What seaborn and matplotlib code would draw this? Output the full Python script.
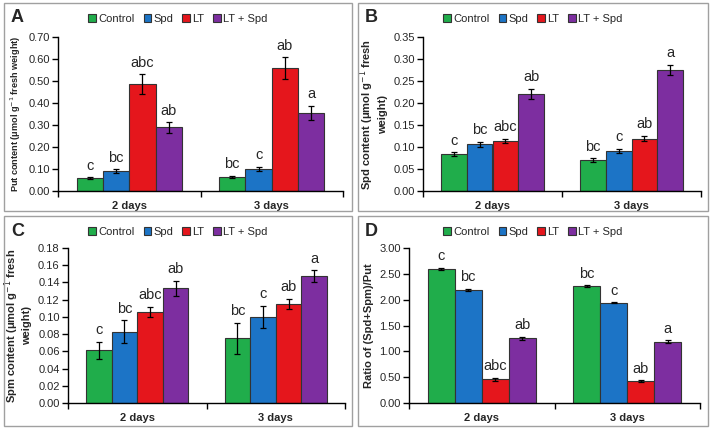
import pandas as pd
import seaborn as sns
import matplotlib.pyplot as plt
from matplotlib.patches import Rectangle

# Data
days = ['2 days', '3 days']
treatments = ['Control', 'Spd', 'LT', 'LT + Spd']
colors = ['#20ad4b', '#1c74c6', '#e5161c', '#7d2ea0']

put_mean = [[0.058, 0.090, 0.486, 0.289], [0.065, 0.100, 0.557, 0.355]]
put_err = [[0.005, 0.008, 0.045, 0.024], [0.004, 0.011, 0.050, 0.032]]
spd_mean = [[0.084, 0.106, 0.114, 0.221], [0.070, 0.091, 0.119, 0.275]]
spd_err = [[0.004, 0.006, 0.005, 0.011], [0.004, 0.005, 0.006, 0.012]]
spm_mean = [[0.061, 0.083, 0.106, 0.133], [0.075, 0.100, 0.115, 0.147]]
spm_err = [[0.010, 0.013, 0.006, 0.009], [0.018, 0.013, 0.006, 0.007]]
ratio_mean = [[2.59, 2.19, 0.46, 1.25], [2.26, 1.94, 0.42, 1.19]]
ratio_err = [[0.02, 0.02, 0.03, 0.03], [0.02, 0.01, 0.02, 0.02]]

letters = [['c', 'bc', 'abc', 'ab'], ['bc', 'c', 'ab', 'a']]

# letter, means, errors, y label, label size, y max, tick step
panels = [
    ('A', put_mean, put_err, 'Put content (μmol g$^{-1}$ fresh weight)', 6.6, 0.70, 0.10),
    ('B', spd_mean, spd_err, 'Spd content (μmol g$^{-1}$ fresh\nweight)', 8, 0.35, 0.05),
    ('C', spm_mean, spm_err, 'Spm content (μmol g$^{-1}$ fresh\nweight)', 8, 0.18, 0.02),
    ('D', ratio_mean, ratio_err, 'Ratio of (Spd+Spm)/Put', 8, 3.00, 0.50),
]

sns.set_style('white')
plt.rcParams['font.family'] = ['Liberation Sans', 'DejaVu Sans']

fig = plt.figure(figsize=(7.12, 4.30), dpi=100)
W, H = 712, 430

# axes boxes in pixels: left, top, right, bottom
boxes = [(58, 37, 343, 191), (423, 37, 701, 191), (68, 248, 345, 403), (409, 248, 700, 403)]
frames = [(4, 3, 352, 211), (358, 3, 708, 211), (4, 216, 352, 426), (358, 216, 708, 426)]

for (letter, mean, err, ylab, lsize, ymax, step), (l, t, r, b), (fl, ft, fr, fb) in zip(panels, boxes, frames):
    fig.patches.append(Rectangle((fl / W, 1 - fb / H), (fr - fl) / W, (fb - ft) / H,
                                 transform=fig.transFigure, fill=False,
                                 edgecolor='#a0a0a0', linewidth=1.0))
    ax = fig.add_axes([l / W, 1 - b / H, (r - l) / W, (b - t) / H])

    rows = []
    for i, d in enumerate(days):
        for j, tr in enumerate(treatments):
            rows.append({'day': d, 'treatment': tr, 'value': mean[i][j]})
    df = pd.DataFrame(rows)

    sns.barplot(data=df, x='day', y='value', hue='treatment', hue_order=treatments,
                palette=colors, saturation=1, width=0.74, gap=0, errorbar=None,
                edgecolor='#333333', linewidth=0.8, ax=ax, legend=False)

    bar_sets = list(ax.containers)
    for j, cont in enumerate(bar_sets):
        for i, bar in enumerate(cont.patches):
            x = bar.get_x() + bar.get_width() / 2
            v = mean[i][j]
            e = err[i][j]
            ax.errorbar(x, v, yerr=e, color='black', capsize=2.5, elinewidth=0.9,
                        capthick=0.9, fmt='none')
            ax.text(x, v + e + ymax * 0.03, letters[i][j], ha='center', va='bottom',
                    fontsize=10.5)

    ax.set_ylim(0, ymax)
    ax.set_xlim(-0.5, 1.5)
    yt = [k * step for k in range(int(round(ymax / step)) + 1)]
    ax.set_yticks(yt)
    ax.set_yticklabels(['%.2f' % v for v in yt], fontsize=8)
    ax.set_xticks([0, 1])
    ax.set_xticklabels(days, fontsize=8, fontweight='bold')
    ax.set_xticks([-0.5, 0.5, 1.5], minor=True)
    ax.tick_params(axis='x', which='major', length=0, pad=7)
    ax.tick_params(axis='x', which='minor', length=4, width=1, direction='out', color='black', bottom=True)
    ax.tick_params(axis='y', length=4, width=1, direction='out', color='black', pad=2, left=True)
    ax.set_xlabel('')
    ax.set_ylabel(ylab, fontsize=lsize, fontweight='bold', labelpad=4)
    for s in ['top', 'right']:
        ax.spines[s].set_visible(False)
    for s in ['left', 'bottom']:
        ax.spines[s].set_color('black')
        ax.spines[s].set_linewidth(1.0)

    # legend centred on the panel frame, above the plot
    handles = [Rectangle((0, 0), 1, 1, facecolor=c, edgecolor='#333333', linewidth=0.8)
               for c in colors]
    ax.legend(handles, treatments, loc='center',
              bbox_to_anchor=((fl + fr) / 2 / W, 1 - (ft + 16) / H),
              bbox_transform=fig.transFigure,
              ncol=4, frameon=False, fontsize=8, handlelength=0.7, handleheight=0.7,
              handletextpad=0.2, columnspacing=0.8, borderaxespad=0)

    fig.text((fl + 7) / W, 1 - (ft + 15) / H, letter, fontsize=13, fontweight='bold',
             va='center', ha='left')

fig.savefig('out.png', dpi=100)
